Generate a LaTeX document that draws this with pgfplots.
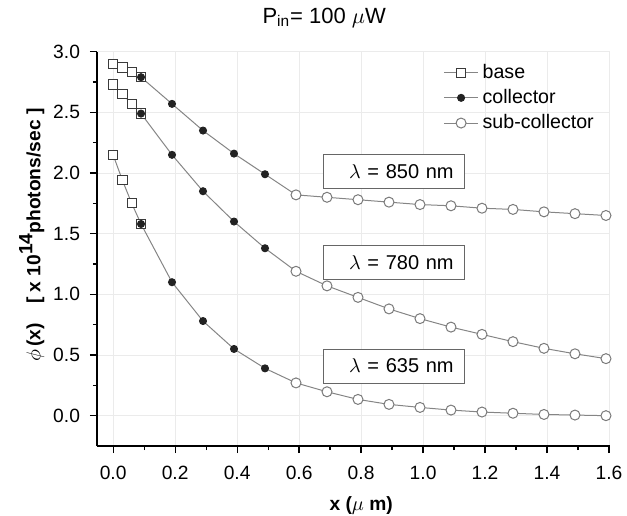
\documentclass[border=0pt]{standalone}
\usepackage{pgfplots}
\pgfplotsset{compat=1.18}
\usepackage{fontspec}
\setmainfont{Liberation Sans}
\definecolor{lncol}{HTML}{858585}
\definecolor{sqcol}{HTML}{3A3A3A}
\definecolor{dotcol}{HTML}{222222}
\definecolor{ocol}{HTML}{7A7A7A}
\definecolor{gridc}{HTML}{EBEBEB}
\definecolor{boxc}{HTML}{666666}
\begin{document}
\begin{tikzpicture}
\begin{axis}[
  scale only axis,
  width=256.5pt, height=197.15pt,
  xmin=-0.052, xmax=1.603,
  ymin=-0.25, ymax=3.0,
  axis lines=left,
  axis line style={-, line width=0.75pt, black},
  xtick={0,0.2,0.4,0.6,0.8,1.0,1.2,1.4,1.6},
  ytick={0,0.5,1.0,1.5,2.0,2.5,3.0},
  minor x tick num=1,
  minor y tick num=1,
  tick align=outside,
  major tick length=3.5pt,
  minor tick length=2pt,
  tick style={black, line width=0.6pt},
  grid=major,
  major grid style={gridc, line width=0.5pt},
  xticklabel style={/pgf/number format/fixed, /pgf/number format/fixed zerofill, /pgf/number format/precision=1, yshift=-3pt},
  yticklabel style={/pgf/number format/fixed, /pgf/number format/fixed zerofill, /pgf/number format/precision=1, xshift=-1.5pt},
  /pgf/number format/assume math mode=true,
  tick label style={font=\fontsize{9.6}{11}\selectfont},
  xlabel={\textbf{x ($\mu$ m)}},
  xlabel style={at={(axis description cs:0.515,-0.15)}, anchor=center, font=\fontsize{9.6}{11}\selectfont},
  ylabel={\textbf{$\phi$\,(x)\quad{[} x 10\raisebox{4pt}{14}photons/sec {]}}},
  ylabel style={at={(axis description cs:-0.127,0.535)}, anchor=center, font=\fontsize{9.6}{11}\selectfont},
  title={P$_{\mathrm{in}}$= 100 $\mu$W},
  title style={at={(axis description cs:0.443,1.042)}, anchor=base, font=\fontsize{11}{13}\selectfont},
  legend style={at={(axis description cs:0.663,0.99)}, anchor=north west, draw=none, fill=none,
     font=\fontsize{9.8}{11.5}\selectfont},
  legend cell align=left,
]
\addplot[color=lncol, line width=0.5pt, mark=square*, mark size=2.3pt, mark options={draw=sqcol, fill=white}]
  coordinates {(0,2.90) (0.03,2.87) (0.06,2.83) (0.09,2.79)};
\addlegendentry{base}
\addplot[color=lncol, line width=0.5pt, mark=*, mark size=1.75pt, mark options={draw=dotcol, fill=dotcol}]
  coordinates {(0.09,2.79) (0.19,2.57) (0.29,2.35) (0.39,2.16) (0.49,1.99) (0.59,1.82)};
\addlegendentry{collector}
\addplot[color=lncol, line width=0.5pt, mark=*, mark size=2.5pt, mark options={draw=ocol, fill=white}]
  coordinates {(0.59,1.82) (0.69,1.80) (0.79,1.78) (0.89,1.76) (0.99,1.74) (1.09,1.73) (1.19,1.71) (1.29,1.70) (1.39,1.68) (1.49,1.665) (1.59,1.65)};
\addlegendentry{sub-collector}
\addplot[forget plot, color=lncol, line width=0.5pt, mark=square*, mark size=2.3pt, mark options={draw=sqcol, fill=white}]
  coordinates {(0,2.73) (0.03,2.65) (0.06,2.57) (0.09,2.49)};
\addplot[forget plot, color=lncol, line width=0.5pt, mark=*, mark size=1.75pt, mark options={draw=dotcol, fill=dotcol}]
  coordinates {(0.09,2.49) (0.19,2.15) (0.29,1.85) (0.39,1.60) (0.49,1.38) (0.59,1.19)};
\addplot[forget plot, color=lncol, line width=0.5pt, mark=*, mark size=2.5pt, mark options={draw=ocol, fill=white}]
  coordinates {(0.59,1.19) (0.69,1.07) (0.79,0.975) (0.89,0.88) (0.99,0.80) (1.09,0.73) (1.19,0.67) (1.29,0.61) (1.39,0.555) (1.49,0.51) (1.59,0.47)};
\addplot[forget plot, color=lncol, line width=0.5pt, mark=square*, mark size=2.3pt, mark options={draw=sqcol, fill=white}]
  coordinates {(0,2.15) (0.03,1.94) (0.06,1.75) (0.09,1.58)};
\addplot[forget plot, color=lncol, line width=0.5pt, mark=*, mark size=1.75pt, mark options={draw=dotcol, fill=dotcol}]
  coordinates {(0.09,1.58) (0.19,1.10) (0.29,0.78) (0.39,0.55) (0.49,0.39) (0.59,0.27)};
\addplot[forget plot, color=lncol, line width=0.5pt, mark=*, mark size=2.5pt, mark options={draw=ocol, fill=white}]
  coordinates {(0.59,0.27) (0.69,0.197) (0.79,0.134) (0.89,0.093) (0.99,0.068) (1.09,0.046) (1.19,0.03) (1.29,0.02) (1.39,0.01) (1.49,0.005) (1.59,0.0)};
\node[draw=boxc, fill=white, minimum width=70.5pt, minimum height=17pt, text width=60pt, align=right, font=\fontsize{10}{12}\selectfont] at (axis cs:0.905,2.015) {$\lambda$ = 850 nm};
\node[draw=boxc, fill=white, minimum width=70.5pt, minimum height=17pt, text width=60pt, align=right, font=\fontsize{10}{12}\selectfont] at (axis cs:0.905,1.26) {$\lambda$ = 780 nm};
\node[draw=boxc, fill=white, minimum width=70.5pt, minimum height=17pt, text width=60pt, align=right, font=\fontsize{10}{12}\selectfont] at (axis cs:0.905,0.41) {$\lambda$ = 635 nm};
\end{axis}
\pgfresetboundingbox
\useasboundingbox ([xshift=-48.5pt,yshift=-34.5pt]current axis.south west) rectangle ([xshift=8.5pt,yshift=25.85pt]current axis.north east);
\end{tikzpicture}
\end{document}
